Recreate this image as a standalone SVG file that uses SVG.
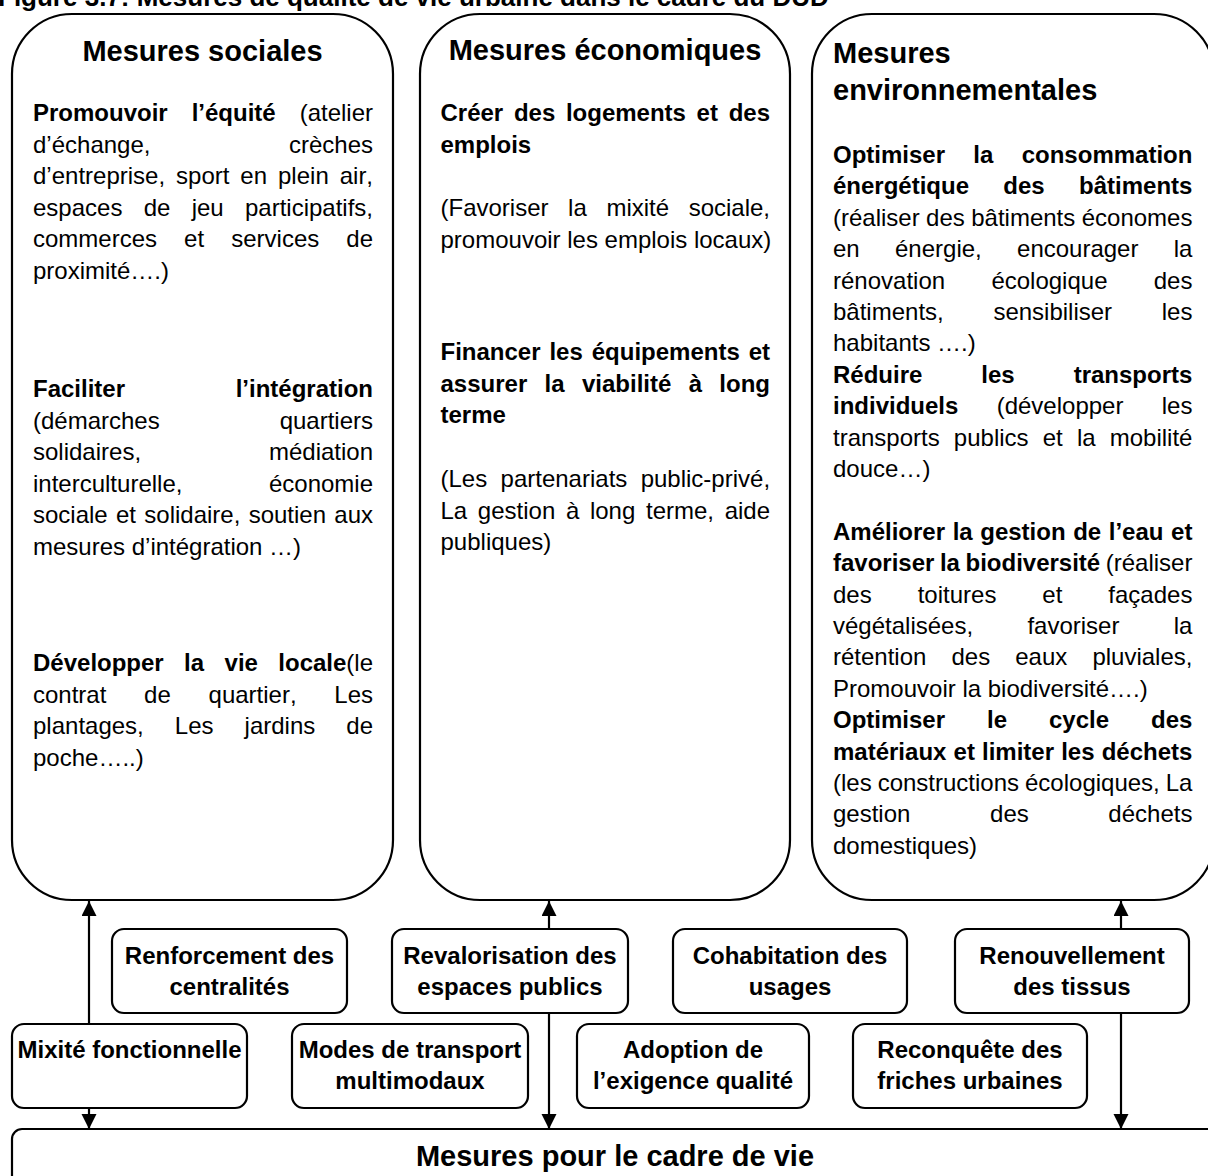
<svg xmlns="http://www.w3.org/2000/svg" width="1208" height="1176" viewBox="0 0 1208 1176">
<style>
text{font-family:"Liberation Sans",Arial,sans-serif;fill:#000;font-kerning:none}
.t{font-size:26px;font-weight:bold}
.h{font-size:29px;font-weight:bold}
.b{font-size:24px}
.bd{font-weight:bold}
.e{text-anchor:end}
.m{text-anchor:middle}
.n{font-size:24px;font-weight:bold;text-anchor:middle}
.big{fill:#fff;stroke:#000;stroke-width:2.2}
.sm{fill:#fff;stroke:#000;stroke-width:2.2}
.c{stroke:#000;stroke-width:2.2;fill:none}
</style>
<defs>
<marker id="ah" markerUnits="userSpaceOnUse" markerWidth="16" markerHeight="16" refX="15" refY="7.5" orient="auto">
<path d="M0,0 L15,7.5 L0,15 Z" fill="#000"/>
</marker>
</defs>
<rect width="1208" height="1176" fill="#fff"/>
<text class="t" x="-2" y="6">Figure 3.7: Mesures de qualité de vie urbaine dans le cadre du DUD</text>

<g id="social">
<rect class="big" x="12" y="14" width="381" height="886" rx="60"/>
<text class="h m" x="202.5" y="61">Mesures sociales</text>
<g class="b">
<text class="b" x="33" y="121" word-spacing="17.3"><tspan class="bd">Promouvoir l’équité</tspan> (atelier</text>
<text class="b" x="33" y="152.6">d’échange,</text><text class="b e" x="373" y="152.6">crèches</text>
<text class="b" x="33" y="184.2" word-spacing="4.3">d’entreprise, sport en plein air,</text>
<text class="b" x="33" y="215.8" word-spacing="14.62">espaces de jeu participatifs,</text>
<text class="b" x="33" y="247.4" word-spacing="20.43">commerces et services de</text>
<text class="b" x="33" y="279">proximité….)</text>
<text class="b bd" x="33" y="397">Faciliter</text><text class="b bd e" x="373" y="397">l’intégration</text>
<text class="b" x="33" y="428.6">(démarches</text><text class="b e" x="373" y="428.6">quartiers</text>
<text class="b" x="33" y="460.2">solidaires,</text><text class="b e" x="373" y="460.2">médiation</text>
<text class="b" x="33" y="491.8">interculturelle,</text><text class="b e" x="373" y="491.8">économie</text>
<text class="b" x="33" y="523.4" word-spacing="1.63">sociale et solidaire, soutien aux</text>
<text class="b" x="33" y="555">mesures d’intégration …)</text>
<text class="b" x="33" y="671" word-spacing="13.74"><tspan class="bd">Développer la vie locale</tspan>(le</text>
<text class="b" x="33" y="702.6" word-spacing="31.07">contrat de quartier, Les</text>
<text class="b" x="33" y="734.2" word-spacing="24.4">plantages, Les jardins de</text>
<text class="b" x="33" y="765.8">poche…..)</text>
</g>
</g>

<g id="economique">
<rect class="big" x="420" y="14" width="370" height="886" rx="60"/>
<text class="h m" x="605" y="60">Mesures économiques</text>
<text class="b bd" x="440.5" y="121" word-spacing="4.01">Créer des logements et des</text>
<text class="b bd" x="440.5" y="152.6">emplois</text>
<text class="b" x="440.5" y="216" word-spacing="12.93">(Favoriser la mixité sociale,</text>
<text class="b" x="440.5" y="247.6">promouvoir les emplois locaux)</text>
<text class="b bd" x="440.5" y="360" word-spacing="2.24">Financer les équipements et</text>
<text class="b bd" x="440.5" y="391.6" word-spacing="10.68">assurer la viabilité à long</text>
<text class="b bd" x="440.5" y="423.2">terme</text>
<text class="b" x="440.5" y="487" word-spacing="6.7">(Les partenariats public-privé,</text>
<text class="b" x="440.5" y="518.6" word-spacing="4">La gestion à long terme, aide</text>
<text class="b" x="440.5" y="550.2">publiques)</text>
</g>

<g id="environnement">
<rect class="big" x="812" y="14" width="402" height="886" rx="60"/>
<text class="h" x="833" y="63">Mesures</text>
<text class="h" x="833" y="100">environnementales</text>
<text class="b bd" x="833" y="163" word-spacing="21.66">Optimiser la consommation</text>
<text class="b bd" x="833" y="194.4" word-spacing="27.66">énergétique des bâtiments</text>
<text class="b" x="833" y="225.8" word-spacing="-0.24">(réaliser des bâtiments économes</text>
<text class="b" x="833" y="257.2" word-spacing="28.64">en énergie, encourager la</text>
<text class="b" x="833" y="288.6" word-spacing="39.63">rénovation écologique des</text>
<text class="b" x="833" y="320" word-spacing="43">bâtiments, sensibiliser les</text>
<text class="b" x="833" y="351.4">habitants ….)</text>
<text class="b bd" x="833" y="382.8" word-spacing="52.3">Réduire les transports</text>
<text class="b" x="833" y="414.2" word-spacing="31.65"><tspan class="bd">individuels</tspan> (développer les</text>
<text class="b" x="833" y="445.6" word-spacing="7.49">transports publics et la mobilité</text>
<text class="b" x="833" y="477">douce…)</text>
<text class="b bd" x="833" y="539.8" word-spacing="0.92">Améliorer la gestion de l’eau et</text>
<text class="b" x="833" y="571.2" word-spacing="-1.13"><tspan class="bd">favoriser la biodiversité</tspan> (réaliser</text>
<text class="b" x="833" y="602.6" word-spacing="39.31">des toitures et façades</text>
<text class="b" x="833" y="634" word-spacing="47.65">végétalisées, favoriser la</text>
<text class="b" x="833" y="665.4" word-spacing="18.42">rétention des eaux pluviales,</text>
<text class="b" x="833" y="696.8">Promouvoir la biodiversité….)</text>
<text class="b bd" x="833" y="728.2" word-spacing="35.31">Optimiser le cycle des</text>
<text class="b bd" x="833" y="759.6" word-spacing="0.48">matériaux et limiter les déchets</text>
<text class="b" x="833" y="791" word-spacing="-0.69">(les constructions écologiques, La</text>
<text class="b" x="833" y="822.4" word-spacing="72.97">gestion des déchets</text>
<text class="b" x="833" y="853.8">domestiques)</text>
</g>

<g id="renforcement">
<rect class="sm" x="112" y="929" width="235" height="84" rx="12"/>
<text class="n" x="229.5" y="964">Renforcement des</text>
<text class="n" x="229.5" y="995">centralités</text>
</g>
<g id="revalorisation">
<rect class="sm" x="392" y="929" width="236" height="84" rx="12"/>
<text class="n" x="510" y="964">Revalorisation des</text>
<text class="n" x="510" y="995">espaces publics</text>
</g>
<g id="cohabitation">
<rect class="sm" x="673" y="929" width="234" height="84" rx="12"/>
<text class="n" x="790" y="964">Cohabitation des</text>
<text class="n" x="790" y="995">usages</text>
</g>
<g id="renouvellement">
<rect class="sm" x="955" y="929" width="234" height="84" rx="12"/>
<text class="n" x="1072" y="964">Renouvellement</text>
<text class="n" x="1072" y="995">des tissus</text>
</g>
<g id="mixite">
<rect class="sm" x="12" y="1024" width="235" height="84" rx="12"/>
<text class="n" x="129.5" y="1058">Mixité fonctionnelle</text>
</g>
<g id="modes">
<rect class="sm" x="292" y="1024" width="236" height="84" rx="12"/>
<text class="n" x="410" y="1058">Modes de transport</text>
<text class="n" x="410" y="1089">multimodaux</text>
</g>
<g id="adoption">
<rect class="sm" x="577" y="1024" width="232" height="84" rx="12"/>
<text class="n" x="693" y="1058">Adoption de</text>
<text class="n" x="693" y="1089">l’exigence qualité</text>
</g>
<g id="reconquete">
<rect class="sm" x="853" y="1024" width="234" height="84" rx="12"/>
<text class="n" x="970" y="1058">Reconquête des</text>
<text class="n" x="970" y="1089">friches urbaines</text>
</g>
<g id="cadre">
<rect class="sm" x="12" y="1129" width="1210" height="90" rx="10"/>
<text class="h m" x="615" y="1166">Mesures pour le cadre de vie</text>
</g>

<g id="connectors">
<path class="c" d="M89,1024 V901" marker-end="url(#ah)"/>
<path class="c" d="M89,1108 V1129" marker-end="url(#ah)"/>
<path class="c" d="M549,929 V901" marker-end="url(#ah)"/>
<path class="c" d="M549,1013 V1129" marker-end="url(#ah)"/>
<path class="c" d="M1121,929 V901" marker-end="url(#ah)"/>
<path class="c" d="M1121,1013 V1129" marker-end="url(#ah)"/>
</g>
</svg>
